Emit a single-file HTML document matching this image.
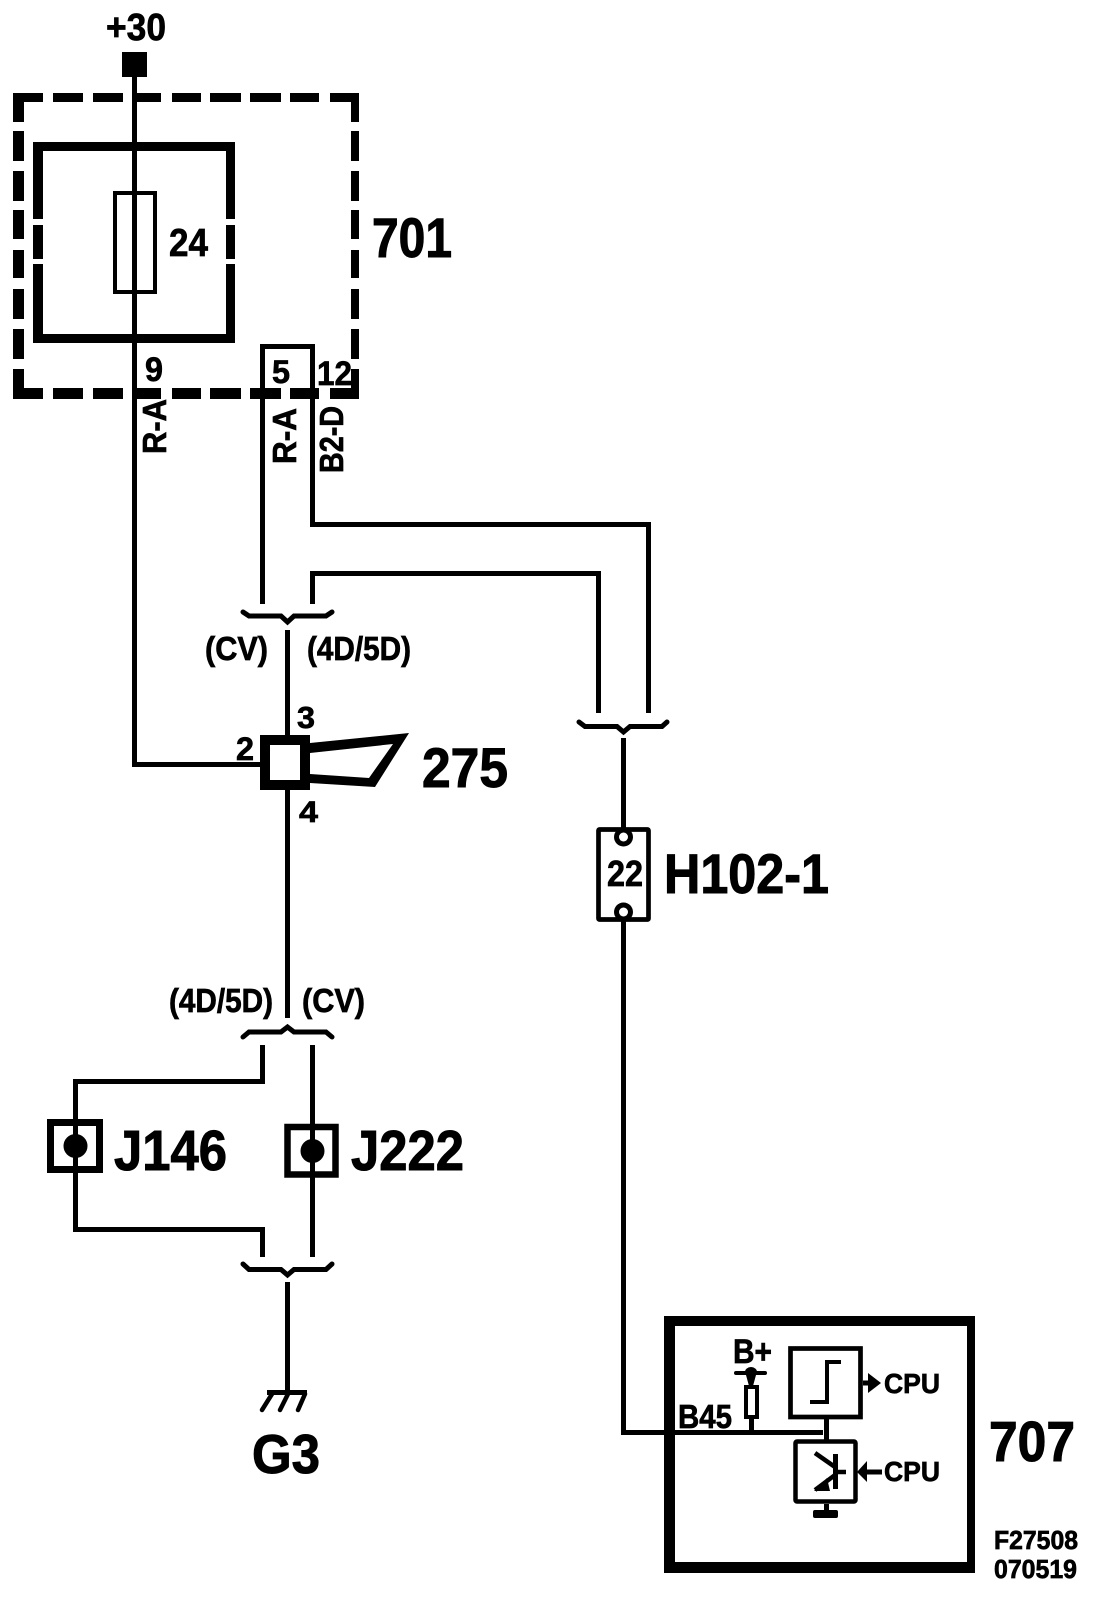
<!DOCTYPE html>
<html><head><meta charset="utf-8"><style>
html,body{margin:0;padding:0;background:#fff}
svg{display:block}
text{font-family:"Liberation Sans",Arial,sans-serif;font-weight:bold;fill:#000;stroke:#000;stroke-width:.7px}
text.b{stroke-width:1px}
.w{fill:none;stroke:#000;stroke-width:5}
</style></head><body>
<svg xmlns="http://www.w3.org/2000/svg" width="1120" height="1618" viewBox="0 0 1120 1618">
<rect width="1120" height="1618" fill="#fff"/>
<!-- dashed box 701 -->
<g fill="#000">
<rect x="13" y="93" width="30" height="9"/><rect x="53" y="93" width="30" height="9"/><rect x="93" y="93" width="30" height="9"/><rect x="137" y="93" width="24" height="9"/><rect x="172" y="93" width="29" height="9"/><rect x="210" y="93" width="31" height="9"/><rect x="250" y="93" width="31" height="9"/><rect x="290" y="93" width="29" height="9"/><rect x="330" y="93" width="29" height="9"/>
<rect x="13" y="388" width="30" height="11"/><rect x="53" y="388" width="30" height="11"/><rect x="93" y="388" width="30" height="11"/><rect x="137" y="388" width="24" height="11"/><rect x="172" y="388" width="29" height="11"/><rect x="210" y="388" width="31" height="11"/><rect x="250" y="388" width="31" height="11"/><rect x="290" y="388" width="29" height="11"/><rect x="330" y="388" width="29" height="11"/>
<rect x="13" y="93" width="11" height="29"/><rect x="13" y="131" width="11" height="30"/><rect x="13" y="171" width="11" height="30"/><rect x="13" y="210" width="11" height="29"/><rect x="13" y="250" width="11" height="28"/><rect x="13" y="289" width="11" height="30"/><rect x="13" y="329" width="11" height="30"/><rect x="13" y="369" width="11" height="30"/>
<rect x="351" y="93" width="8" height="29"/><rect x="351" y="131" width="8" height="30"/><rect x="351" y="171" width="8" height="30"/><rect x="351" y="210" width="8" height="29"/><rect x="351" y="250" width="8" height="28"/><rect x="351" y="289" width="8" height="30"/><rect x="351" y="329" width="8" height="30"/><rect x="351" y="369" width="8" height="30"/>
<!-- inner box -->
<rect x="33" y="142" width="202" height="9"/><rect x="33" y="334" width="202" height="9"/>
<rect x="33" y="142" width="10" height="77"/><rect x="33" y="225" width="10" height="34"/><rect x="33" y="264" width="10" height="79"/>
<rect x="226" y="142" width="9" height="77"/><rect x="226" y="225" width="9" height="34"/><rect x="226" y="264" width="9" height="79"/>
<!-- terminal -->
<rect x="122" y="52" width="25" height="25"/>
</g>
<rect x="115" y="193" width="40" height="99" fill="none" stroke="#000" stroke-width="4"/>
<!-- main wire -->
<polyline class="w" points="134.5,77 134.5,764.5 260,764.5"/>
<!-- wires from 701 -->
<polyline class="w" points="262.5,604 262.5,346.5 312.5,346.5 312.5,524.5 648.5,524.5 648.5,713"/>
<polyline class="w" points="312.5,604 312.5,573.5 598.5,573.5 598.5,713"/>
<!-- braces -->
<path class="w" stroke-linecap="round" d="M243,612 L249,616 H281 L287.500,622 L294,616 H326 L332,612"/>
<path class="w" stroke-linecap="round" d="M243,1037 L249,1032 H281 L287.500,1027 L294,1032 H326 L332,1037"/>
<path class="w" stroke-linecap="round" d="M243,1264 L249,1269.500 H281 L287.500,1275 L294,1269.500 H326 L332,1264"/>
<path class="w" stroke-linecap="round" d="M579,722 L585,726.500 H617 L623.500,732 L630,726.500 H662 L667,722"/>
<!-- centre wires -->
<line class="w" x1="287.500" y1="630" x2="287.500" y2="740"/>
<line class="w" x1="287.500" y1="786" x2="287.500" y2="1018"/>
<!-- horn -->
<rect x="265" y="740" width="40" height="45" fill="#fff" stroke="#000" stroke-width="10"/>
<path fill="#000" fill-rule="evenodd" d="M310,743 L409,733 L375,787 L310,783 Z M310,753 L310,774 L369,778 L393,744 Z"/>
<!-- lower wires -->
<polyline class="w" points="262.5,1045 262.5,1081.5 75.5,1081.5 75.5,1229.5 262.5,1229.5 262.5,1257"/>
<line class="w" x1="312.5" y1="1045" x2="312.5" y2="1257"/>
<rect x="50.500" y="1122.500" width="49" height="47" fill="none" stroke="#000" stroke-width="7"/>
<circle cx="75.500" cy="1146" r="12"/>
<rect x="287.500" y="1127" width="48" height="47.500" fill="none" stroke="#000" stroke-width="6.500"/>
<circle cx="312.500" cy="1151" r="12"/>
<!-- ground -->
<line class="w" x1="287.500" y1="1282" x2="287.500" y2="1392"/>
<rect x="267" y="1390" width="40" height="5"/>
<g stroke="#000" stroke-width="4.500" stroke-linecap="round">
<line x1="272" y1="1394" x2="262" y2="1410"/><line x1="288" y1="1394" x2="280" y2="1410"/><line x1="305" y1="1394" x2="298" y2="1410"/>
</g>
<!-- H102-1 -->
<line class="w" x1="623.500" y1="738" x2="623.500" y2="830"/>
<polyline class="w" points="623.500,920 623.500,1432.500 823,1432.500"/>
<rect x="598.500" y="829.500" width="50" height="90" fill="none" stroke="#000" stroke-width="4.700" rx="1"/>
<circle cx="623.500" cy="837" r="9.500"/>
<circle cx="623.500" cy="837" r="4.500" fill="#fff"/>
<circle cx="623.500" cy="912" r="9.500"/>
<circle cx="623.500" cy="912" r="4.500" fill="#fff"/>
<!-- 707 -->
<path fill="#000" fill-rule="evenodd" d="M664,1316 H975 V1573 H664 Z M675,1326 V1562 H967 V1326 Z"/>
<line class="w" x1="826.500" y1="1418" x2="826.500" y2="1441"/>
<!-- step box -->
<rect x="790.500" y="1348.500" width="70" height="68.500" fill="none" stroke="#000" stroke-width="4.700"/>
<polyline points="810,1402 827,1402 827,1362 841,1362" fill="none" stroke="#000" stroke-width="4"/>
<line class="w" x1="863" y1="1383" x2="872" y2="1383"/>
<polygon points="868,1373 868,1393 881,1383"/>
<!-- switch box -->
<rect x="795.500" y="1441.500" width="60" height="60" fill="none" stroke="#000" stroke-width="4.500" rx="1.500"/>
<rect x="833" y="1454" width="5" height="35"/>
<line x1="815" y1="1453" x2="835" y2="1467" stroke="#000" stroke-width="4.500"/>
<line x1="815" y1="1490" x2="835" y2="1475" stroke="#000" stroke-width="4.500"/>
<polygon points="814,1491 830,1491 827,1478"/>
<line x1="835" y1="1472" x2="846" y2="1472" stroke="#000" stroke-width="4.500"/>
<line class="w" x1="865" y1="1472" x2="882" y2="1472"/>
<polygon points="857,1472 867,1461 867,1482"/>
<rect x="824" y="1504" width="5" height="8"/>
<rect x="813" y="1510" width="25" height="8" rx="2"/>
<!-- B+ -->
<rect x="734" y="1371" width="33" height="4" rx="2"/>
<ellipse cx="751" cy="1372" rx="6" ry="5"/>
<polygon points="746,1375 756,1375 753,1386 749,1386"/>
<rect x="746" y="1387" width="11" height="30" fill="#fff" stroke="#000" stroke-width="4"/>
<rect x="749" y="1418" width="5" height="13"/>
<!-- text -->
<text x="106" y="40" font-size="38" textLength="60" lengthAdjust="spacingAndGlyphs">+30</text>
<text x="169" y="256" font-size="39" textLength="39" lengthAdjust="spacingAndGlyphs">24</text>
<text class="b" x="372" y="257" font-size="56" textLength="80" lengthAdjust="spacingAndGlyphs">701</text>
<text x="145" y="381" font-size="34" textLength="18" lengthAdjust="spacingAndGlyphs">9</text>
<text x="272" y="383" font-size="32" textLength="18" lengthAdjust="spacingAndGlyphs">5</text>
<text x="317" y="385" font-size="34" textLength="35" lengthAdjust="spacingAndGlyphs">12</text>
<text transform="translate(166,454) rotate(-90)" font-size="33" textLength="55" lengthAdjust="spacingAndGlyphs">R-A</text>
<text transform="translate(296,464) rotate(-90)" font-size="33" textLength="56" lengthAdjust="spacingAndGlyphs">R-A</text>
<text transform="translate(343,473) rotate(-90)" font-size="33" textLength="67" lengthAdjust="spacingAndGlyphs">B2-D</text>
<text x="205" y="660" font-size="33" textLength="63" lengthAdjust="spacingAndGlyphs">(CV)</text>
<text x="307" y="660" font-size="33" textLength="104" lengthAdjust="spacingAndGlyphs">(4D/5D)</text>
<text x="297" y="728" font-size="31" textLength="18" lengthAdjust="spacingAndGlyphs">3</text>
<text x="236" y="760" font-size="32" textLength="18" lengthAdjust="spacingAndGlyphs">2</text>
<text x="299" y="822" font-size="30" textLength="19" lengthAdjust="spacingAndGlyphs">4</text>
<text class="b" x="422" y="787" font-size="56" textLength="86" lengthAdjust="spacingAndGlyphs">275</text>
<text x="169" y="1012" font-size="33" textLength="104" lengthAdjust="spacingAndGlyphs">(4D/5D)</text>
<text x="302" y="1012" font-size="33" textLength="63" lengthAdjust="spacingAndGlyphs">(CV)</text>
<text class="b" x="114" y="1170" font-size="57" textLength="113" lengthAdjust="spacingAndGlyphs">J146</text>
<text class="b" x="351" y="1170" font-size="57" textLength="113" lengthAdjust="spacingAndGlyphs">J222</text>
<text class="b" x="252" y="1473" font-size="55" textLength="68" lengthAdjust="spacingAndGlyphs">G3</text>
<text x="607" y="886" font-size="36" textLength="36" lengthAdjust="spacingAndGlyphs">22</text>
<text class="b" x="664" y="893" font-size="56" textLength="165" lengthAdjust="spacingAndGlyphs">H102-1</text>
<text x="733" y="1363" font-size="34" textLength="39" lengthAdjust="spacingAndGlyphs">B+</text>
<text x="678" y="1428" font-size="33" textLength="54" lengthAdjust="spacingAndGlyphs">B45</text>
<text x="884" y="1393" font-size="28" textLength="56" lengthAdjust="spacingAndGlyphs">CPU</text>
<text x="884" y="1481" font-size="28" textLength="56" lengthAdjust="spacingAndGlyphs">CPU</text>
<text class="b" x="989" y="1461" font-size="57" textLength="86" lengthAdjust="spacingAndGlyphs">707</text>
<text x="994" y="1549" font-size="26" textLength="84" lengthAdjust="spacingAndGlyphs">F27508</text>
<text x="994" y="1578" font-size="26" textLength="83" lengthAdjust="spacingAndGlyphs">070519</text>
</svg>
</body></html>
